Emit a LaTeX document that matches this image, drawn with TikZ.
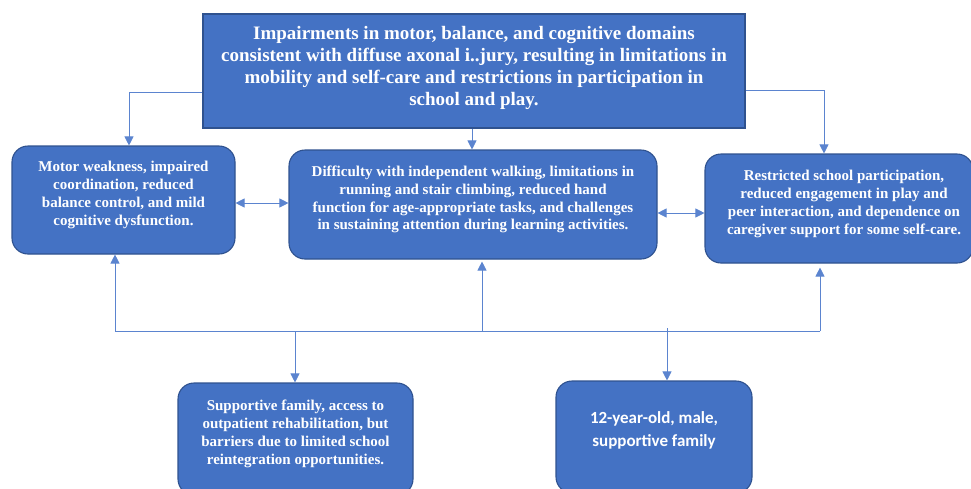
\documentclass[tikz,border=0pt]{standalone}
\usepackage{fontspec}
\setmainfont{Liberation Serif}
\newfontfamily\calibri{Carlito}
\usetikzlibrary{arrows.meta}
\definecolor{boxblue}{HTML}{4472C4}
\definecolor{boxedge}{HTML}{2F528F}
\definecolor{linkblue}{HTML}{5B84CF}

\begin{document}
\begin{tikzpicture}[x=1pt,y=-1pt]
\tikzset{box/.style={draw=boxedge,line width=1.1pt,fill=boxblue,inner sep=0pt},
  rbox/.style={box,rounded corners=16pt},
  txt/.style={text=white,align=center,font=\bfseries\fontsize{15}{17.8}\selectfont},
  link/.style={draw=linkblue,line width=0.8pt},
  arr/.style={link,-{Triangle[length=9pt,width=9pt]}},
  darr/.style={link,{Triangle[length=9pt,width=9pt]}-{Triangle[length=9pt,width=9pt]}}}
\useasboundingbox (0,0) rectangle (971,488);
\clip (0,0) rectangle (971,488);
\node [box,minimum width=542pt,minimum height=114pt] (top) at (474,71) {};
\node [txt,font=\bfseries\fontsize{19}{22}\selectfont] at (474,68)
  {Impairments in motor, balance, and cognitive domains\\consistent with diffuse axonal i..jury, resulting in limitations in\\mobility and self-care and restrictions in participation in\\school and play.};
\node [rbox,minimum width=223pt,minimum height=108pt] (motor) at (123.5,200) {};
\node [txt] at (123.5,195)
  {Motor weakness, impaired\\coordination, reduced\\balance control, and mild\\cognitive dysfunction.};
\node [rbox,minimum width=368pt,minimum height=109pt] (mid) at (473,204.5) {};
\node [txt] at (473,199.5)
  {Difficulty with independent walking, limitations in\\running and stair climbing, reduced hand\\function for age-appropriate tasks, and challenges\\in sustaining attention during learning activities.};
\node [rbox,minimum width=268pt,minimum height=109pt] (resp) at (839,208.5) {};
\node [txt] at (844,204)
  {Restricted school participation,\\reduced engagement in play and\\peer interaction, and dependence on\\caregiver support for some self-care.};
\node [rbox,minimum width=235pt,minimum height=112pt] (env) at (295.5,439) {};
\node [txt] at (295.5,434)
  {Supportive family, access to\\outpatient rehabilitation, but\\barriers due to limited school\\reintegration opportunities.};
\node [rbox,minimum width=196pt,minimum height=112pt] (pers) at (654,437) {};
\node [txt,font=\calibri\bfseries\fontsize{17}{23}\selectfont] at (654,430)
  {12-year-old, male,\\supportive family};
\draw [arr] ([yshift=-21pt]top.west) -| ([xshift=5.5pt]motor.north);
\draw [arr] ([yshift=-19pt]top.east) -| ([xshift=-15pt]resp.north);
\draw [arr] ([xshift=-2pt]top.south) -- ([xshift=-1pt]mid.north);
\draw [darr] ([yshift=-3pt]motor.east) -- ([yshift=-3pt]motor.east -| mid.west);
\draw [darr] ([yshift=-8.5pt]mid.east) -- ([yshift=-8.5pt]mid.east -| resp.west);
\coordinate (bl) at (115,331);
\coordinate (bm) at (482,331);
\coordinate (br) at (820,331);
\coordinate (d1) at (295,331);
\coordinate (d2) at (667,328);
\draw [link] (bl) -- (br);
\draw [arr] (bl) -- (bl |- motor.south);
\draw [arr,shorten >=2pt] (bm) -- (bm |- mid.south);
\draw [arr,shorten >=4pt] (br) -- (br |- resp.south);
\draw [arr] (d1) -- (d1 |- env.north);
\draw [arr] (d2) -- (d2 |- pers.north);
\end{tikzpicture}
\end{document}
